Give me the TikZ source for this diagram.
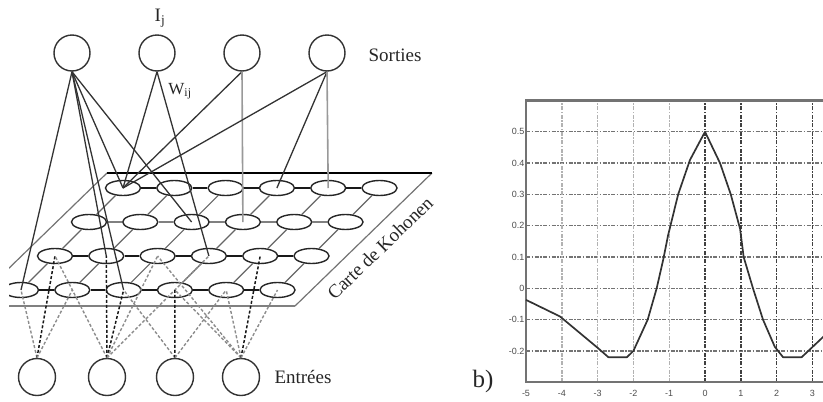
\documentclass[tikz,border=0pt]{standalone}
\usepackage{fontspec}
\setmainfont{Liberation Serif}
\newfontfamily\ticksf{Liberation Sans}
\usetikzlibrary{shapes.geometric}
\tikzset{
  outc/.style={circle, draw=black!80, line width=1.4pt, minimum size=36pt, inner sep=0pt, fill=white},
  inc/.style={circle, draw=black!80, line width=1.4pt, minimum size=37pt, inner sep=0pt, fill=white},
  neur/.style={ellipse, draw=black!85, line width=1.4pt, minimum width=35pt, minimum height=15pt, inner sep=0pt, fill=white},
  hlink/.style={draw=black!90, line width=1.6pt},
  hlinkg/.style={draw=black!50, line width=1.5pt},
  dlink/.style={draw=black!60, line width=1.2pt},
  wlink/.style={draw=black!80, line width=1.3pt},
  wlinkg/.style={draw=black!40, line width=1.6pt},
  inb/.style={draw=black!90, line width=1.5pt, dash pattern=on 3pt off 2pt},
  ing/.style={draw=black!45, line width=1.4pt, dash pattern=on 3pt off 2pt},
  planetop/.style={draw=black, line width=1.8pt},
  planeside/.style={draw=black!55, line width=1.2pt},
  planebot/.style={draw=black!50, line width=1.8pt},
  lbl/.style={text=black!85, font=\fontsize{19}{22}\selectfont, inner sep=0pt},
  tick/.style={text=black!70, font=\ticksf\fontsize{9}{10}\selectfont, inner sep=0pt},
  gridh/.style={draw=black!55, line width=1.3pt, dash pattern=on 4pt off 1.5pt on 1.5pt off 1.5pt},
  gridvl/.style={draw=black!30, line width=1.4pt, dash pattern=on 4pt off 1.5pt on 1.5pt off 1.5pt},
  gridvd/.style={draw=black!75, line width=1.4pt, dash pattern=on 4pt off 1.5pt on 1.5pt off 1.5pt},
  axisline/.style={draw=black!55, line width=2.2pt},
  curveline/.style={draw=black!80, line width=1.7pt, line join=round},
}
\begin{document}
\begin{tikzpicture}[x=1pt,y=-1pt]
\useasboundingbox (0,0) rectangle (823,402);

% ---------------- left: Kohonen network ----------------
\begin{scope}
\clip (9,0) rectangle (460,402);
% plane
\coordinate (PA) at (107,173);
\coordinate (PB) at (432,173);
\coordinate (PC) at (295,306);
\coordinate (PD) at (-30,306);
\draw[planeside] (PB) -- (PC);
\draw[planeside] (PD) -- (PA);
\draw[planebot] (PC) -- (PD);
\draw[planetop] (PA) -- (PB);

% neurons of the map
\foreach \r in {1,...,4}{
  \foreach \c in {1,...,6}{
    \node[neur] (g\r\c) at ({123-34*(\r-1)+51.3*(\c-1)},{188+34*(\r-1)}) {};
  }
}
% map links
\foreach \r in {1,3,4}{
  \foreach \c in {1,...,5}{
    \pgfmathtruncatemacro{\cn}{\c+1}
    \draw[hlink] (g\r\c) -- (g\r\cn);
  }
}
\foreach \c in {1,...,5}{
  \pgfmathtruncatemacro{\cn}{\c+1}
  \draw[hlinkg] (g2\c) -- (g2\cn);
}
\foreach \r in {1,2,3}{
  \foreach \c in {1,...,6}{
    \pgfmathtruncatemacro{\rn}{\r+1}
    \draw[dlink] (g\r\c) -- (g\rn\c);
  }
}

% output neurons
\node[outc] (o1) at (72,53) {};
\node[outc] (o2) at (157,53) {};
\node[outc] (o3) at (242,53) {};
\node[outc] (o4) at (327,53) {};

% input neurons
\node[inc] (i1) at (37,377) {};
\node[inc] (i2) at (107,377) {};
\node[inc] (i3) at (175,377) {};
\node[inc] (i4) at (241,377) {};

% weights outputs -> map
\draw[wlink] (o1.south) -- (g41.center);
\draw[wlink] (o1.south) -- (g32.center);
\draw[wlink] (o1.south) -- (g43.center);
\draw[wlink] (o1.south) -- (g11.center);
\draw[wlink] (o1.south) -- (g23.center);
\draw[wlink] (o2.south) -- (g11.center);
\draw[wlink] (o2.south) -- (g34.center);
\draw[wlink] (o3.south) -- (g11.center);
\draw[wlinkg] (o3.south) -- (g24.center);
\draw[wlink] (o4.south) -- (g11.center);
\draw[wlink] (o4.south) -- (g14.center);
\draw[wlinkg] (o4.south) -- (g15.center);

% inputs -> map
\draw[ing] (i1.north) -- (g41.center);
\draw[inb] (i1.north) -- (g31.center);
\draw[ing] (i1.north) -- (g42.center);
\draw[ing] (i2.north) -- (g31.center);
\draw[inb] (i2.north) -- (g32.center);
\draw[inb] (i2.north) -- (g43.center);
\draw[ing] (i2.north) -- (g33.center);
\draw[ing] (i2.north) -- (g34.center);
\draw[ing] (i3.north) -- (g43.center);
\draw[inb] (i3.north) -- (g44.center);
\draw[ing] (i3.north) -- (g45.center);
\draw[ing] (i4.north) -- (g44.center);
\draw[ing] (i4.north) -- (g33.center);
\draw[ing] (i4.north) -- (g45.center);
\draw[inb] (i4.north) -- (g35.center);
\draw[ing] (i4.north) -- (g46.center);
\end{scope}

% labels
\node[lbl] (ij) at (160,18) {I\textsubscript{j}};
\node[lbl, font=\fontsize{17}{20}\selectfont] (wij) at (180,91) {W\textsubscript{ij}};
\node[lbl] (sorties) at (395,55) {Sorties};
\node[lbl] (entrees) at (303,377) {Entrées};
\node[lbl, rotate=44] (carte) at (380,248) {Carte de Kohonen};

% ---------------- right: plot ----------------
\node[lbl, font=\fontsize{25}{27}\selectfont] (blabel) at (483,381) {b)};
\begin{scope}[shift={(705,288.3)}, x=35.8pt, y=313pt]
  \begin{scope}
    \clip (-5.3,-0.36) rectangle (3.296,0.65);
    \foreach \v in {-0.2,-0.1,0,0.1,0.2,0.3,0.4,0.5}
      \draw[gridh] (-5,\v) -- (3.4,\v);
    \foreach \X in {-4,...,-1}
      \draw[gridvl] (\X,-0.3) -- (\X,0.6);
    \foreach \X in {0,...,3}
      \draw[gridvd] (\X,-0.3) -- (\X,0.6);
    \draw[axisline] (3.4,0.6) -- (-5,0.6) -- (-5,-0.3) -- (3.4,-0.3);
    \draw[curveline] plot coordinates {(-5,-0.037) (-4.05,-0.09) (-3,-0.19) (-2.7,-0.22) (-2.18,-0.22) (-2,-0.2) (-1.6,-0.1) (-1.35,0) (-1.17,0.09) (-1.03,0.17) (-0.75,0.3) (-0.42,0.41) (0,0.5) (0.42,0.40) (0.72,0.3) (0.98,0.19) (1.08,0.1) (1.34,0) (1.62,-0.1) (1.95,-0.187) (2.18,-0.22) (2.7,-0.22) (2.98,-0.19) (3.35,-0.15)};
  \end{scope}
  \foreach \X [count=\i] in {-5,...,3}
    \node[tick] (xt\i) at (\X,-0.335) {\X};
  \foreach \v [count=\i] in {0.5,0.4,0.3,0.2,0.1,0,-0.1,-0.2}
    \node[tick, anchor=east] (yt\i) at ([xshift=-1.5pt]-5,\v) {\v};
\end{scope}
\end{tikzpicture}
\end{document}
